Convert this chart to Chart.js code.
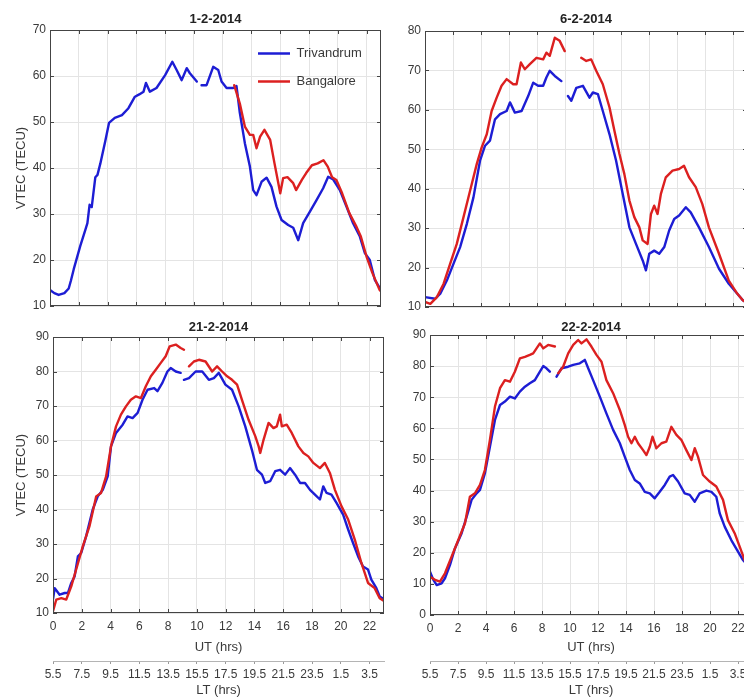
<!DOCTYPE html>
<html>
<head>
<meta charset="utf-8">
<title>VTEC over Trivandrum and Bangalore, February 2014</title>
<script src="https://cdn.jsdelivr.net/npm/chart.js@4.4.1/dist/chart.umd.min.js"></script>
<style>
  html, body { margin: 0; padding: 0; background: #fff; overflow: hidden; }
  #fig { position: relative; width: 744px; height: 698px; overflow: hidden; background: #fff; }
  #fig canvas { position: absolute; }
</style>
</head>
<body>
<div id="fig">
  <canvas id="c1" width="395" height="318" style="left:0px;top:0px"></canvas>
  <canvas id="c2" width="380" height="319" style="left:375px;top:0px"></canvas>
  <canvas id="c3" width="395" height="388" style="left:0px;top:310px"></canvas>
  <canvas id="c4" width="380" height="388" style="left:380px;top:310px"></canvas>
</div>
<script>
// ---- axis ticks and labels ----
const utTicks = [0, 2, 4, 6, 8, 10, 12, 14, 16, 18, 20, 22];
const ltTickLabels = ['5.5', '7.5', '9.5', '11.5', '13.5', '15.5', '17.5', '19.5', '21.5', '23.5', '1.5', '3.5'];
const utRange = [0, 23];
const stationNames = ['Trivandrum', 'Bangalore'];
const dayTitles = ['1-2-2014', '6-2-2014', '21-2-2014', '22-2-2014'];
const vtecRange1 = [10, 70];
const vtecRange2 = [10, 80];
const vtecRange3 = [10, 90];
const vtecRange4 = [0, 90];

// ---- 1 Feb 2014 ----
const ut_01_triv = [0, 0.3, 0.6, 1.0, 1.3, 1.45, 1.65, 2.1, 2.45, 2.6, 2.75, 2.9, 3.15, 3.3, 3.5, 3.85, 4.1, 4.5, 5.0, 5.45, 5.9, 6.2, 6.5, 6.67, 6.94, 7.4, 8.0, 8.5, 8.8, 9.15, 9.5, 9.72, 10.2, 10.35, 10.53, 10.88, 11.34, 11.69, 11.92, 12.27, 12.73, 12.96, 13.19, 13.54, 13.89, 14.12, 14.35, 14.7, 15.05, 15.39, 15.74, 16.09, 16.55, 16.9, 17.25, 17.59, 18.06, 18.52, 18.98, 19.33, 19.68, 20.14, 20.6, 21.06, 21.53, 21.88, 22.22, 22.57, 22.92, 23];
const vtec_01_triv = [13.5, 12.8, 12.4, 12.8, 13.8, 15.5, 18, 23, 26.5, 28, 32, 31.5, 38, 38.5, 41, 46, 49.8, 50.9, 51.5, 53, 55.5, 56, 56.6, 58.5, 56.6, 57.4, 60.2, 63.1, 61.3, 59.1, 61.7, 60.6, 58.8, null, 58, 58, 62, 61.3, 58.8, 57.4, 57.4, 57.8, 52, 45.4, 40.3, 35.2, 34.1, 37, 37.9, 35.9, 31.6, 28.7, 27.6, 27, 24.3, 28, 30.5, 33, 35.6, 38.1, 37.5, 35.2, 31.6, 28, 25.1, 21.5, 20, 15.7, 13.9, 13.5];
const ut_01_bang = [12.8, 13.19, 13.54, 13.89, 14.12, 14.35, 14.6, 14.9, 15.3, 15.6, 16.0, 16.2, 16.5, 16.9, 17.1, 17.5, 17.8, 18.2, 18.6, 19.0, 19.3, 19.6, 19.9, 20.3, 20.8, 21.3, 21.6, 22.0, 22.4, 22.9, 23];
const vtec_01_bang = [58, 54, 49, 47.2, 47.2, 44.3, 46.8, 48.3, 46.1, 41, 34.5, 37.8, 38, 36.7, 35.2, 37.4, 38.9, 40.6, 41, 41.7, 40.3, 38, 37.4, 34.5, 30.2, 27.2, 25.1, 20.7, 17.2, 13.5, 13.2];

// ---- 6 Feb 2014 ----
const ut_06_triv = [0, 0.73, 1.09, 1.56, 2.04, 2.51, 2.99, 3.46, 3.93, 4.29, 4.64, 5.0, 5.36, 5.83, 6.07, 6.42, 6.9, 7.37, 7.73, 8.08, 8.44, 8.67, 8.91, 9.27, 9.74, 9.95, 10.21, 10.45, 10.81, 11.28, 11.75, 11.99, 12.35, 12.7, 13.18, 13.65, 14.12, 14.6, 15.07, 15.55, 15.78, 16.02, 16.37, 16.73, 17.09, 17.44, 17.8, 18.15, 18.63, 18.98, 19.57, 20.28, 21.0, 21.7, 22.4, 22.7, 23];
const vtec_06_triv = [12.5, 12.1, 13.4, 16.7, 21, 25.2, 31.1, 37.8, 47.1, 50.9, 52.2, 57.6, 58.9, 59.7, 61.9, 59.3, 59.7, 63.5, 66.9, 66.1, 66.1, 68.2, 69.9, 68.6, 67.3, null, 63.5, 62.3, 65.6, 66.1, 63.1, 64.4, 64, 59.7, 53.8, 47.1, 38.7, 30.2, 26, 21.8, 19.3, 23.5, 24.3, 23.5, 25.2, 29.4, 32.3, 33.2, 35.3, 34, 30.2, 25.2, 19.7, 15.9, 13, 11.7, 11];
const ut_06_bang = [0, 0.38, 0.85, 1.33, 1.8, 2.27, 2.75, 3.22, 3.7, 4.05, 4.41, 4.76, 5.12, 5.47, 5.83, 6.3, 6.54, 6.85, 7.13, 7.49, 7.96, 8.44, 8.67, 8.91, 9.27, 9.62, 9.98, 10.5, 11.16, 11.52, 11.87, 12.23, 12.7, 13.18, 13.53, 13.89, 14.24, 14.6, 14.95, 15.31, 15.55, 15.9, 16.14, 16.37, 16.61, 16.85, 17.2, 17.68, 18.15, 18.5, 18.86, 19.34, 19.81, 20.28, 21.0, 21.7, 22.3, 22.7, 23];
const vtec_06_bang = [11.3, 10.8, 12.5, 15.9, 21, 26, 32.8, 39.5, 46.3, 50.5, 53.8, 59.7, 63.1, 66.1, 67.8, 66.5, 66.5, 72, 70.3, 71.6, 73.2, 72.8, 74.5, 73.7, 78.3, 77.5, 74.9, null, 73.2, 72.4, 72.8, 69.9, 66.5, 60.6, 54.7, 48.8, 43.7, 37, 32.8, 30.2, 26.9, 26, 33.6, 35.7, 33.6, 38.7, 42.9, 44.6, 45, 45.8, 42.9, 40.4, 36.1, 30.2, 23.5, 16.7, 13.4, 11.7, 11];

// ---- 21 Feb 2014 ----
const ut_21_triv = [0, 0.12, 0.46, 0.81, 1.04, 1.27, 1.5, 1.73, 1.96, 2.3, 2.76, 3.11, 3.46, 3.8, 4.03, 4.38, 4.84, 5.18, 5.53, 5.88, 6.22, 6.57, 7.03, 7.26, 7.6, 7.95, 8.18, 8.53, 8.87, 8.98, 9.1, 9.45, 9.91, 10.37, 10.83, 11.18, 11.52, 11.98, 12.44, 12.9, 13.36, 13.82, 14.17, 14.52, 14.75, 15.09, 15.44, 15.78, 16.13, 16.47, 16.82, 17.17, 17.51, 17.86, 18.2, 18.55, 18.78, 19.01, 19.35, 19.7, 20.16, 20.51, 20.85, 21.2, 21.54, 21.89, 22.12, 22.47, 22.7, 23];
const vtec_21_triv = [14, 17.2, 15.3, 15.8, 15.8, 18.7, 20.6, 26.4, 27.4, 32.2, 40, 43.8, 45.7, 49.6, 58.3, 62.2, 64.6, 67, 66.5, 68, 71.8, 74.7, 75.2, 74.3, 76.7, 80, 81, 80, 79.6, null, 77.6, 78.1, 80, 80, 77.6, 78.1, 79.6, 76.2, 74.7, 69.9, 64.1, 57.3, 51.5, 50.1, 47.7, 48.2, 51.1, 51.5, 50.1, 52, 50.1, 47.7, 47.7, 45.7, 44.3, 42.9, 46.7, 44.8, 44.3, 41.9, 38.5, 34.2, 30.3, 26.4, 23.5, 22.6, 19.7, 17.2, 14.8, 14];
const ut_21_bang = [0, 0.23, 0.58, 0.92, 1.27, 1.61, 2.07, 2.53, 3.0, 3.34, 3.69, 4.03, 4.38, 4.72, 5.07, 5.41, 5.76, 6.11, 6.45, 6.8, 7.14, 7.49, 7.83, 8.11, 8.53, 8.87, 9.1, 9.28, 9.45, 9.79, 10.14, 10.6, 11.06, 11.4, 11.75, 12.1, 12.44, 12.79, 13.13, 13.59, 14.06, 14.29, 14.4, 14.63, 14.98, 15.32, 15.55, 15.78, 15.9, 16.24, 16.59, 17.05, 17.4, 17.74, 18.09, 18.55, 18.89, 19.24, 19.59, 20.05, 20.51, 20.97, 21.43, 21.89, 22.35, 22.7, 23];
const vtec_21_bang = [10.5, 13.9, 14.3, 13.9, 17.7, 22.6, 29.3, 35.1, 43.8, 44.8, 49.6, 58.3, 64.1, 67.5, 69.9, 71.8, 72.8, 72.3, 75.7, 78.6, 80.5, 82.5, 84.4, 87.3, 87.8, 86.8, 86.3, null, 81.5, 82.9, 83.4, 82.9, 80, 81.5, 80, 78.6, 77.6, 76.2, 71.8, 66, 61.2, 58.3, 56.4, 60.2, 65.1, 63.6, 64.1, 67.5, 64.1, 64.6, 62.2, 58.3, 56.4, 55.4, 53.5, 52, 53.5, 50.6, 45.7, 40.9, 37.1, 31.3, 24.5, 18.7, 17.2, 14.3, 13.5];

// ---- 22 Feb 2014 ----
const ut_22_triv = [0, 0.24, 0.48, 0.83, 1.07, 1.43, 1.78, 2.26, 2.62, 2.97, 3.33, 3.57, 3.92, 4.28, 4.64, 5.0, 5.35, 5.71, 6.06, 6.42, 6.78, 7.13, 7.49, 7.85, 8.09, 8.32, 8.56, 8.8, 9.04, 9.39, 9.87, 10.23, 10.7, 11.06, 11.3, 11.65, 12.13, 12.6, 13.08, 13.56, 13.91, 14.27, 14.63, 14.98, 15.34, 15.7, 16.05, 16.41, 16.77, 17.12, 17.36, 17.72, 18.19, 18.55, 18.91, 19.26, 19.74, 20.1, 20.45, 20.69, 21.05, 21.52, 22.0, 22.35, 23];
const vtec_22_triv = [13.9, 11.3, 9.6, 10.2, 11.8, 16.1, 21.4, 26.3, 31.6, 37, 39.1, 40.2, 45.5, 54.1, 62.7, 67.5, 68.6, 70.2, 69.6, 71.8, 73.4, 74.5, 75.5, 78.2, 80, 79.3, 78.2, null, 76.6, 79.3, 79.8, 80.4, 80.9, 82, 79.3, 75.5, 70.2, 64.8, 59.5, 55.2, 50.9, 46.6, 43.4, 42.3, 39.6, 39.1, 37.5, 39.6, 41.8, 44.5, 45, 42.9, 39.1, 38.6, 36.4, 39.1, 40, 39.6, 38, 32.7, 28.4, 24.1, 20.4, 17.7, 14.5];
const ut_22_bang = [0, 0.36, 0.71, 1.07, 1.55, 2.02, 2.5, 2.85, 3.21, 3.57, 3.92, 4.28, 4.64, 5.0, 5.35, 5.71, 6.06, 6.42, 6.78, 7.13, 7.37, 7.61, 7.85, 8.09, 8.44, 8.92, 9.04, 9.16, 9.51, 9.87, 10.23, 10.58, 10.82, 11.18, 11.53, 11.89, 12.25, 12.6, 13.08, 13.56, 13.91, 14.15, 14.39, 14.63, 14.86, 15.22, 15.46, 15.7, 15.89, 16.17, 16.53, 16.88, 17.24, 17.6, 17.95, 18.31, 18.67, 18.91, 19.14, 19.5, 19.98, 20.45, 20.93, 21.28, 21.76, 22.12, 22.47, 23];
const vtec_22_bang = [12.3, 11.3, 10.7, 13.4, 18.8, 24.1, 29.5, 38, 39.1, 41.8, 46.6, 56.3, 67, 72.9, 75.5, 75, 78.2, 82.5, 83, 83.6, 84.1, 85.7, 87.3, 85.7, 86.8, 86.3, null, 77.7, 79.8, 84.1, 86.8, 88.4, 87.3, 88.6, 86.3, 83.6, 81.4, 75.5, 71.3, 65.9, 61.1, 57.3, 55.2, 57.3, 55.2, 53, 51.4, 54.1, 57.3, 53.6, 55.2, 55.7, 60.5, 57.9, 56.3, 53, 49.8, 53.6, 50.9, 45, 42.9, 41.3, 37, 30.5, 26.3, 22, 17.7, 13];

// ---- styling ----
const FONT = '"Liberation Sans", Arial, Helvetica, sans-serif';
const TRIV_COLOR = '#1d1dd4';
const BANG_COLOR = '#dc2020';
const GRID_COLOR = '#e4e4e4';
const FRAME_COLOR = '#444444';
const TEXT_COLOR = '#3a3a3a';

function toPoints(ut, vtec) {
  if (ut.length !== vtec.length) throw new Error('UT/VTEC length mismatch: ' + ut.length + ' vs ' + vtec.length);
  return ut.map((h, i) => ({ x: h, y: vtec[i] }));
}

// box around the plot area with short inward ticks, MATLAB style
const framePlugin = {
  id: 'axesFrame',
  afterDatasetsDraw(chart) {
    const { ctx, chartArea: a, scales } = chart;
    ctx.save();
    ctx.strokeStyle = FRAME_COLOR;
    ctx.lineWidth = 1;
    ctx.beginPath();
    const x = scales.x, y = scales.y;
    x.ticks.forEach(t => {
      const px = Math.round(x.getPixelForValue(t.value)) + 0.5;
      ctx.moveTo(px, a.bottom); ctx.lineTo(px, a.bottom - 4);
      ctx.moveTo(px, a.top); ctx.lineTo(px, a.top + 4);
    });
    y.ticks.forEach(t => {
      const py = Math.round(y.getPixelForValue(t.value)) + 0.5;
      ctx.moveTo(a.left, py); ctx.lineTo(a.left + 4, py);
      ctx.moveTo(a.right, py); ctx.lineTo(a.right - 4, py);
    });
    ctx.stroke();
    ctx.strokeRect(Math.round(a.left) + 0.5, Math.round(a.top) + 0.5,
                   Math.round(a.width) - 1, Math.round(a.height) - 1);
    ctx.restore();
  }
};

// puts the legend in the upper right part of the plot area
const legendPlacePlugin = {
  id: 'legendPlace',
  beforeDraw(chart, args, opts) {
    const lg = chart.legend;
    if (!lg || !lg.options.display) return;
    const a = chart.chartArea;
    const w = lg.width, h = lg.height;
    lg.left = a.left + opts.dx;
    lg.right = lg.left + w;
    lg.top = a.top + opts.dy;
    lg.bottom = lg.top + h;
  }
};

function setTicks(values) {
  return scale => { scale.ticks = values.map(v => ({ value: v })); };
}

function makePanel(canvasId, cfg) {
  const datasets = [
    {
      label: stationNames[0],
      data: toPoints(cfg.trivUt, cfg.trivVtec),
      borderColor: TRIV_COLOR,
      backgroundColor: TRIV_COLOR,
      borderWidth: 2.4,
      order: 1
    },
    {
      label: stationNames[1],
      data: toPoints(cfg.bangUt, cfg.bangVtec),
      borderColor: BANG_COLOR,
      backgroundColor: BANG_COLOR,
      borderWidth: 2.4,
      order: 0
    }
  ];

  const scales = {
    x: {
      type: 'linear',
      position: 'bottom',
      min: utRange[0],
      max: utRange[1],
      afterBuildTicks: setTicks(utTicks),
      afterFit: s => { s.height = cfg.xHeight; },
      grid: { color: GRID_COLOR, drawTicks: false, lineWidth: 1 },
      border: { display: false },
      ticks: {
        display: cfg.bottomRow,
        autoSkip: false, maxRotation: 0,
        padding: 6,
        color: TEXT_COLOR,
        font: { family: FONT, size: 12 }
      },
      title: {
        display: cfg.bottomRow,
        text: 'UT (hrs)',
        color: TEXT_COLOR,
        font: { family: FONT, size: 13 },
        padding: { top: 0, bottom: 6 }
      }
    },
    y: {
      type: 'linear',
      position: 'left',
      min: cfg.vtecRange[0],
      max: cfg.vtecRange[1],
      ticks: {
        stepSize: 10,
        padding: 4,
        color: TEXT_COLOR,
        font: { family: FONT, size: 12 }
      },
      afterFit: s => { s.width = cfg.yWidth; },
      grid: { color: GRID_COLOR, drawTicks: false, lineWidth: 1 },
      border: { display: false },
      title: {
        display: cfg.leftCol,
        text: 'VTEC (TECU)',
        color: TEXT_COLOR,
        font: { family: FONT, size: 13 },
        padding: { top: 14, bottom: 0 }
      }
    }
  };

  if (cfg.bottomRow) {
    // local time axis underneath the UT axis
    scales.x2 = {
      type: 'linear',
      position: 'bottom',
      min: utRange[0],
      max: utRange[1],
      afterBuildTicks: setTicks(utTicks),
      afterFit: s => { s.height = cfg.x2Height; },
      grid: { drawOnChartArea: false, drawTicks: true, tickLength: 3, color: '#9a9a9a' },
      border: { display: true, color: '#b4b4b4', dash: [2, 3] },
      ticks: {
        autoSkip: false, maxRotation: 0,
        padding: 3,
        color: TEXT_COLOR,
        font: { family: FONT, size: 12 },
        callback: (v, i) => ltTickLabels[i]
      },
      title: {
        display: true,
        text: 'LT (hrs)',
        color: TEXT_COLOR,
        font: { family: FONT, size: 13 },
        padding: { top: 0, bottom: 0 }
      }
    };
  }

  return new Chart(document.getElementById(canvasId), {
    type: 'line',
    data: { datasets },
    options: {
      responsive: false,
      animation: false,
      events: [],
      spanGaps: false,
      elements: {
        point: { radius: 0 },
        line: { tension: 0, borderJoinStyle: 'round', borderCapStyle: 'round' }
      },
      layout: { padding: { left: 0, top: 0, right: cfg.padRight, bottom: 0 } },
      scales,
      plugins: {
        title: {
          display: true,
          text: cfg.title,
          fullSize: false,
          color: '#222',
          font: { family: FONT, size: 13, weight: 'bold' },
          padding: cfg.titlePad
        },
        legend: {
          display: !!cfg.legend,
          position: 'chartArea',
          align: 'start',
          labels: {
            usePointStyle: true,
            pointStyle: 'line',
            pointStyleWidth: 32,
            padding: 15,
            color: TEXT_COLOR,
            font: { family: FONT, size: 13 },
            sort: (a, b) => a.datasetIndex - b.datasetIndex
          }
        },
        legendPlace: { dx: 193, dy: 2 },
        tooltip: { enabled: false }
      }
    },
    plugins: [framePlugin, legendPlacePlugin]
  });
}

makePanel('c1', {
  title: dayTitles[0], vtecRange: vtecRange1,
  trivUt: ut_01_triv, trivVtec: vtec_01_triv, bangUt: ut_01_bang, bangVtec: vtec_01_bang,
  leftCol: true, bottomRow: false, legend: true,
  yWidth: 50, xHeight: 12, padRight: 14,
  titlePad: { top: 12, bottom: 2.4 }
});

makePanel('c2', {
  title: dayTitles[1], vtecRange: vtecRange2,
  trivUt: ut_06_triv, trivVtec: vtec_06_triv, bangUt: ut_06_bang, bangVtec: vtec_06_bang,
  leftCol: false, bottomRow: false, legend: false,
  yWidth: 50, xHeight: 12, padRight: 8,
  titlePad: { top: 12, bottom: 3.4 }
});

makePanel('c3', {
  title: dayTitles[2], vtecRange: vtecRange3,
  trivUt: ut_21_triv, trivVtec: vtec_21_triv, bangUt: ut_21_bang, bangVtec: vtec_21_bang,
  leftCol: true, bottomRow: true, legend: false,
  yWidth: 53, xHeight: 48, x2Height: 37, padRight: 11,
  titlePad: { top: 9.2, bottom: 2.2 }
});

makePanel('c4', {
  title: dayTitles[3], vtecRange: vtecRange4,
  trivUt: ut_22_triv, trivVtec: vtec_22_triv, bangUt: ut_22_bang, bangVtec: vtec_22_bang,
  leftCol: false, bottomRow: true, legend: false,
  yWidth: 50, xHeight: 46, x2Height: 37, padRight: 8,
  titlePad: { top: 9.2, bottom: 0.2 }
});
</script>
</body>
</html>
